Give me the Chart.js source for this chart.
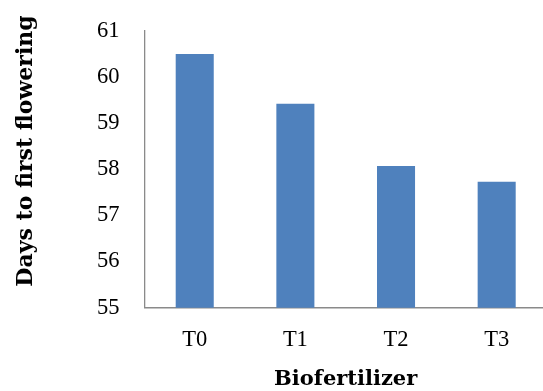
<!DOCTYPE html>
<html>
<head>
<meta charset="utf-8">
<script src="https://cdn.jsdelivr.net/npm/chart.js@4/dist/chart.umd.min.js"></script>
<style>
  html, body { margin: 0; padding: 0; overflow: hidden; background: #fff; }
  #wrap { width: 547px; height: 391px; position: relative; }
</style>
</head>
<body>
<div id="wrap"><canvas id="c"></canvas></div>
<script>
// Treatments and mean days to first flowering
const categories = ['T0', 'T1', 'T2', 'T3'];
const daysToFlowering = [60.5, 59.42, 58.07, 57.73];
const yTicks = [55, 56, 57, 58, 59, 60, 61];

const yTitleText = 'Days to first flowering';
const xTitleText = 'Biofertilizer';

// Rotated y-axis title, drawn beside the tick labels
const yTitlePlugin = {
  id: 'yTitle',
  afterDraw(chart) {
    const ctx = chart.ctx;
    ctx.save();
    ctx.translate(32, 151);
    ctx.rotate(-Math.PI / 2);
    ctx.font = 'bold 22px "DejaVu Serif"';
    ctx.fillStyle = '#000';
    ctx.textAlign = 'center';
    ctx.textBaseline = 'alphabetic';
    ctx.fillText(yTitleText, 0, 0);
    ctx.restore();
  }
};

new Chart(document.getElementById('c'), {
  type: 'bar',
  data: {
    labels: categories,
    datasets: [{
      data: daysToFlowering,
      backgroundColor: '#4f81bd',
      borderWidth: 0,
      barPercentage: 0.378,
      categoryPercentage: 1
    }]
  },
  options: {
    responsive: true,
    maintainAspectRatio: false,
    animation: false,
    layout: { padding: { top: 31, left: 0, right: 0, bottom: 0 } },
    plugins: {
      legend: { display: false },
      tooltip: { enabled: false }
    },
    scales: {
      x: {
        grid: { display: true, drawOnChartArea: false, drawTicks: false },
        border: { display: true, color: '#8a8a8a', width: 1.6 },
        ticks: {
          color: '#000',
          padding: 19,
          font: { family: '"Liberation Serif"', size: 22.5 }
        },
        title: {
          display: true,
          text: xTitleText,
          color: '#000',
          font: { family: '"DejaVu Serif"', size: 21, weight: 'bold', lineHeight: 1 },
          padding: { top: 0, bottom: 1 }
        },
        afterFit(scale) { scale.height = 83.3; }
      },
      y: {
        min: 55,
        max: 61,
        afterBuildTicks(scale) { scale.ticks = yTicks.map(v => ({ value: v })); },
        grid: { display: true, drawOnChartArea: false, drawTicks: false },
        border: { display: true, color: '#8a8a8a', width: 1.3 },
        ticks: {
          color: '#000',
          padding: 25,
          font: { family: '"Liberation Serif"', size: 22.5 }
        },
        afterFit(scale) {
          scale.width = 144.4;
          // only half a label of room is needed above and below the axis
          scale.paddingTop = 14;
          scale.paddingBottom = 14;
        }
      }
    }
  },
  plugins: [yTitlePlugin]
});
</script>
</body>
</html>
